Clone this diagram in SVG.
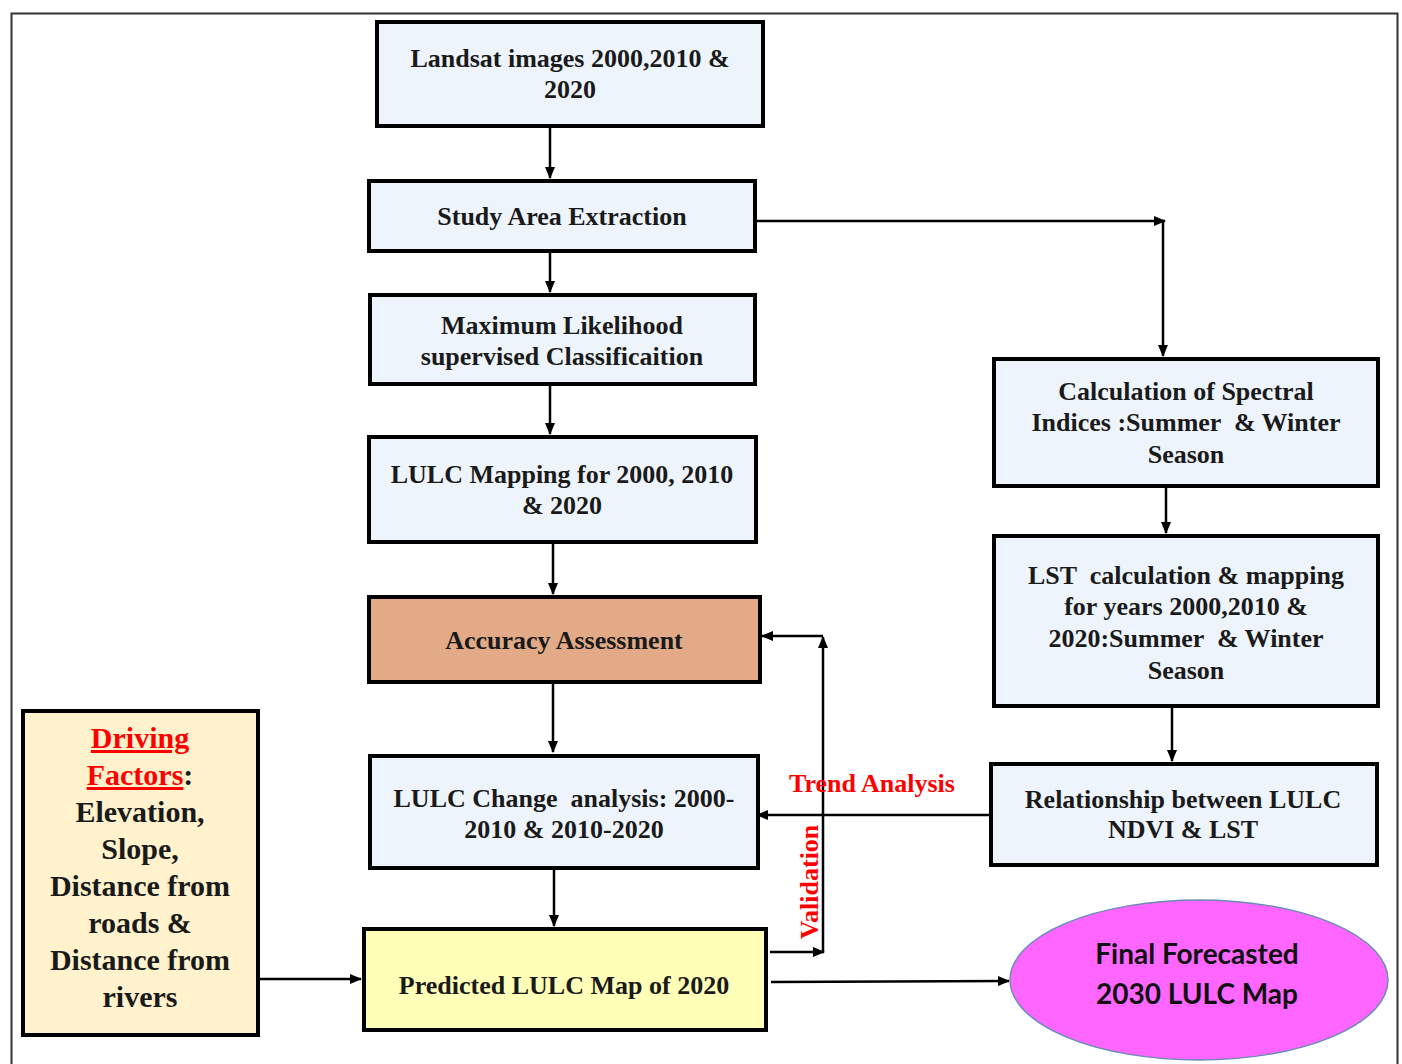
<svg xmlns="http://www.w3.org/2000/svg" width="1402" height="1064" viewBox="0 0 1402 1064">
<style>
.box{fill:#EEF4FB;stroke:#000;stroke-width:4}
.t{font-family:"Liberation Serif","Times New Roman",serif;font-weight:bold;font-size:26px;fill:#1a1a1a;text-anchor:middle}
.df{font-size:30px}
.red{fill:#FF0000}
.ln{fill:none;stroke:#000;stroke-width:2.5}
.e{font-family:Lato,"Liberation Sans",sans-serif;font-weight:bold;font-size:28px;fill:#111;text-anchor:middle}
</style>
<defs>
<marker id="ah" markerWidth="12" markerHeight="10" refX="11" refY="5" orient="auto" markerUnits="userSpaceOnUse">
<path d="M0,0 L12,5 L0,10 Z" fill="#000"/>
</marker>
</defs>
<rect width="1402" height="1064" fill="#fff"/>
<path d="M11.5,1064 V13.5 H1397.5 V1064" fill="none" stroke="#333" stroke-width="2"/>

<g id="connectors">
<line class="ln" x1="550" y1="128" x2="550" y2="178" marker-end="url(#ah)"/>
<line class="ln" x1="550" y1="252" x2="550" y2="292" marker-end="url(#ah)"/>
<line class="ln" x1="550" y1="386" x2="550" y2="434" marker-end="url(#ah)"/>
<line class="ln" x1="553" y1="544" x2="553" y2="594" marker-end="url(#ah)"/>
<line class="ln" x1="553" y1="684" x2="553" y2="752" marker-end="url(#ah)"/>
<line class="ln" x1="554" y1="870" x2="554" y2="926" marker-end="url(#ah)"/>
<line class="ln" x1="757" y1="221" x2="1165" y2="221" marker-end="url(#ah)"/>
<line class="ln" x1="1163" y1="221" x2="1163" y2="356" marker-end="url(#ah)"/>
<line class="ln" x1="1166" y1="488" x2="1166" y2="533" marker-end="url(#ah)"/>
<line class="ln" x1="1172" y1="708" x2="1172" y2="761" marker-end="url(#ah)"/>
<line class="ln" x1="989" y1="815" x2="757" y2="815" marker-end="url(#ah)"/>
<line class="ln" x1="770" y1="952" x2="824" y2="952" marker-end="url(#ah)"/>
<line class="ln" x1="823" y1="952" x2="823" y2="637" marker-end="url(#ah)"/>
<line class="ln" x1="823" y1="636" x2="762" y2="636" marker-end="url(#ah)"/>
<line class="ln" x1="771" y1="982" x2="1009" y2="981" marker-end="url(#ah)"/>
<line class="ln" x1="260" y1="979" x2="361" y2="979" marker-end="url(#ah)"/>
<text class="t red" x="872" y="792">Trend Analysis</text>
<text class="t red" transform="translate(818,882) rotate(-90)" x="0" y="0">Validation</text>
</g>

<g id="landsat">
<rect class="box" x="377" y="22" width="386" height="104"/>
<text class="t" x="570" y="67">Landsat images 2000,2010 &amp;</text>
<text class="t" x="570" y="98">2020</text>
</g>
<g id="study-area">
<rect class="box" x="369" y="181" width="386" height="70"/>
<text class="t" x="562" y="225">Study Area Extraction</text>
</g>
<g id="classification">
<rect class="box" x="370" y="295" width="385" height="89"/>
<text class="t" x="562" y="334">Maximum Likelihood</text>
<text class="t" x="562" y="365">supervised Classificaition</text>
</g>
<g id="lulc-mapping">
<rect class="box" x="369" y="437" width="387" height="105"/>
<text class="t" x="562" y="483">LULC Mapping for 2000, 2010</text>
<text class="t" x="562" y="514">&amp; 2020</text>
</g>
<g id="accuracy">
<rect class="box" x="369" y="597" width="391" height="85" style="fill:#E2AA87"/>
<text class="t" x="564" y="649">Accuracy Assessment</text>
</g>
<g id="lulc-change">
<rect class="box" x="370" y="756" width="388" height="112"/>
<text class="t" x="564" y="807" xml:space="preserve">LULC Change  analysis: 2000-</text>
<text class="t" x="564" y="838">2010 &amp; 2010-2020</text>
</g>
<g id="predicted">
<rect class="box" x="364" y="929" width="402" height="101" style="fill:#FFFFB8"/>
<text class="t" x="564" y="994">Predicted LULC Map of 2020</text>
</g>
<g id="driving-factors">
<rect class="box" x="23" y="711" width="235" height="324" style="fill:#FFF2CC"/>
<text class="t df red" x="140" y="748" text-decoration="underline">Driving</text>
<text class="t df" x="140" y="785"><tspan class="red" text-decoration="underline">Factors</tspan>:</text>
<text class="t df" x="140" y="822">Elevation,</text>
<text class="t df" x="140" y="859">Slope,</text>
<text class="t df" x="140" y="896">Distance from</text>
<text class="t df" x="140" y="933">roads &amp;</text>
<text class="t df" x="140" y="970">Distance from</text>
<text class="t df" x="140" y="1007">rivers</text>
</g>
<g id="spectral">
<rect class="box" x="994" y="359" width="384" height="127"/>
<text class="t" x="1186" y="400">Calculation of Spectral</text>
<text class="t" x="1186" y="431" xml:space="preserve">Indices :Summer  &amp; Winter</text>
<text class="t" x="1186" y="463">Season</text>
</g>
<g id="lst">
<rect class="box" x="994" y="536" width="384" height="170"/>
<text class="t" x="1186" y="584" xml:space="preserve">LST  calculation &amp; mapping</text>
<text class="t" x="1186" y="615">for years 2000,2010 &amp;</text>
<text class="t" x="1186" y="647" xml:space="preserve">2020:Summer  &amp; Winter</text>
<text class="t" x="1186" y="679">Season</text>
</g>
<g id="relationship">
<rect class="box" x="991" y="764" width="386" height="101"/>
<text class="t" x="1183" y="808">Relationship between LULC</text>
<text class="t" x="1183" y="838">NDVI &amp; LST</text>
</g>
<g id="final">
<ellipse cx="1199" cy="980" rx="189" ry="80" fill="#FF66FF" stroke="#6A8CB0" stroke-width="1.5"/>
<text class="e" x="1197" y="964">Final Forecasted</text>
<text class="e" x="1197" y="1004">2030 LULC Map</text>
</g>
</svg>
